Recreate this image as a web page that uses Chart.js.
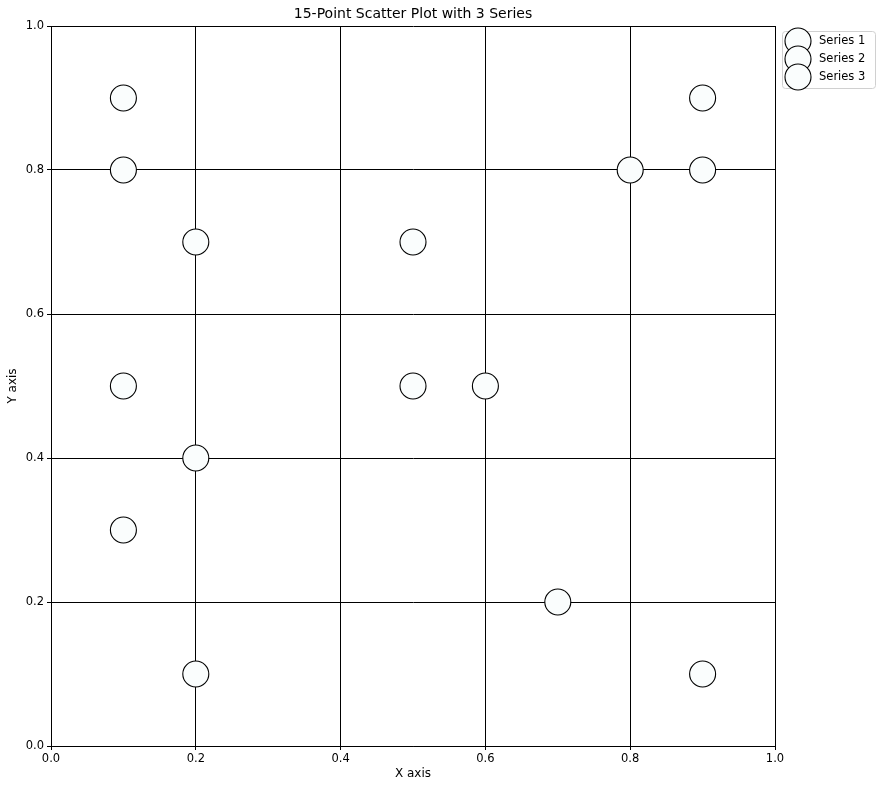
<!DOCTYPE html>
<html>
<head>
<meta charset="utf-8">
<script src="https://cdn.jsdelivr.net/npm/chart.js@4.4.1/dist/chart.umd.min.js"></script>
<style>
html,body{margin:0;padding:0;background:#fff;}
#wrap{width:880px;height:790px;position:relative;}
</style>
</head>
<body>
<div id="wrap"><canvas id="c" width="880" height="790"></canvas></div>
<script>
const chartTitle = '15-Point Scatter Plot with 3 Series';
const seriesNames = ['Series 1', 'Series 2', 'Series 3'];
const series1X = [0.1, 0.2, 0.5, 0.1, 0.9];
const series1Y = [0.9, 0.7, 0.5, 0.3, 0.1];
const series2X = [0.1, 0.5, 0.2, 0.7, 0.8];
const series2Y = [0.8, 0.7, 0.4, 0.2, 0.8];
const series3X = [0.1, 0.6, 0.2, 0.9, 0.9];
const series3Y = [0.5, 0.5, 0.1, 0.8, 0.9];
const tickValues = [0.0, 0.2, 0.4, 0.6, 0.8, 1.0];

const FONT = 'DejaVu Sans';
const fill = '#fafdfd';

function pts(xs, ys){ return xs.map((x,i)=>({x:x, y:ys[i]})); }
const allX = [series1X, series2X, series3X];
const allY = [series1Y, series2Y, series3Y];

const datasets = seriesNames.map((n,i)=>({
  label: n,
  data: pts(allX[i], allY[i]),
  backgroundColor: fill,
  borderColor: '#000',
  borderWidth: 1.1,
  pointRadius: 13,
  pointHoverRadius: 13
}));

const titleLegendPlugin = {
  id: 'mplTitleLegend',
  afterDraw(chart){
    const ctx = chart.ctx;
    const area = chart.chartArea;
    ctx.save();
    // title centred over the plot area
    ctx.font = '14px "' + FONT + '"';
    ctx.fillStyle = '#000';
    ctx.textAlign = 'center';
    ctx.textBaseline = 'middle';
    ctx.fillText(chartTitle, (area.left + area.right) / 2, 14);
    // legend
    const x0 = 782, y0 = 31, w = 93, h = 57;
    ctx.fillStyle = 'rgba(255,255,255,0.8)';
    ctx.strokeStyle = '#d0d0d0';
    ctx.lineWidth = 1;
    ctx.beginPath();
    if (ctx.roundRect) ctx.roundRect(x0+0.5, y0+0.5, w, h, 3); else ctx.rect(x0+0.5,y0+0.5,w,h);
    ctx.fill(); ctx.stroke();
    ctx.font = '11.5px "' + FONT + '"';
    ctx.textAlign = 'left';
    chart.data.datasets.forEach((ds,i)=>{
      const cy = 41 + i*18;
      ctx.beginPath();
      ctx.arc(798, cy, 13, 0, Math.PI*2);
      ctx.fillStyle = ds.backgroundColor;
      ctx.fill();
      ctx.strokeStyle = ds.borderColor;
      ctx.lineWidth = 1.1;
      ctx.stroke();
    });
    chart.data.datasets.forEach((ds,i)=>{
      const cy = 41 + i*18;
      ctx.fillStyle = '#000';
      ctx.fillText(ds.label, 819, cy);
    });
    ctx.restore();
  }
};

const tickFont = {family: FONT, size: 11.5};
new Chart(document.getElementById('c'), {
  type: 'scatter',
  data: { datasets: datasets },
  options: {
    responsive: false,
    animation: false,
    devicePixelRatio: 1,
    layout: { padding: { top: 26, right: 105, bottom: 0, left: 0 } },
    plugins: {
      legend: { display: false },
      tooltip: { enabled: false },
      title: { display: false }
    },
    scales: {
      x: {
        type: 'linear', min: 0, max: 1,
        afterBuildTicks(s){ s.ticks = tickValues.map(v=>({value:v})); },
        afterFit(s){ s.height = 44; },
        ticks: { color:'#000', font: tickFont, padding: 2, maxRotation: 0,
          callback: v => Number(v).toFixed(1) },
        grid: { color: '#000', lineWidth: 1, tickLength: 4, tickColor:'#000' },
        border: { color: '#000', width: 1 },
        title: { display: true, text: 'X axis', color:'#000', font: {family: FONT, size: 12, lineHeight: 1.2}, padding: {top:0, bottom: 8.5} }
      },
      y: {
        type: 'linear', min: 0, max: 1,
        afterBuildTicks(s){ s.ticks = tickValues.map(v=>({value:v})); },
        afterFit(s){ s.width = 51; },
        ticks: { color:'#000', font: tickFont, padding: 3,
          callback: v => Number(v).toFixed(1) },
        grid: { color: '#000', lineWidth: 1, tickLength: 4, tickColor:'#000' },
        border: { color: '#000', width: 1 },
        title: { display: true, text: 'Y axis', color:'#000', font: {family: FONT, size: 12, lineHeight: 1.2}, padding: {top: 5.8, bottom: 0} }
      }
    }
  },
  plugins: [titleLegendPlugin]
});
</script>
</body>
</html>
